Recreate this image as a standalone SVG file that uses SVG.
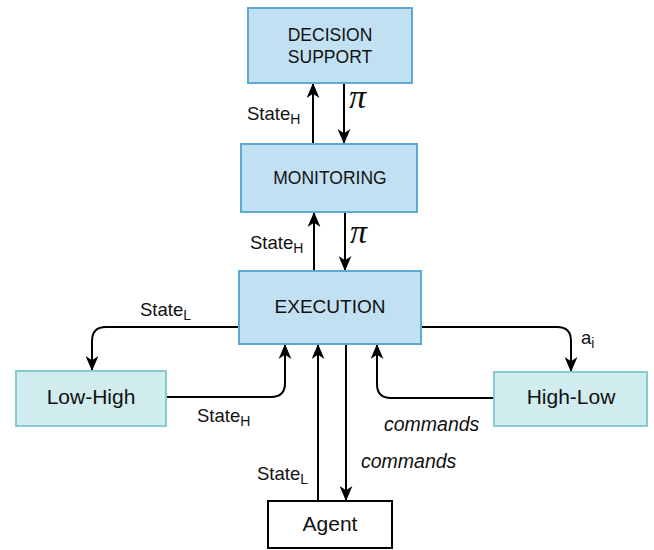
<svg xmlns="http://www.w3.org/2000/svg" width="654" height="550" viewBox="0 0 654 550">
  <defs>
    <marker id="arrow" viewBox="0 0 14 12" refX="13" refY="6" markerWidth="15" markerHeight="13" markerUnits="userSpaceOnUse" orient="auto">
      <path d="M0,0 L14,6 L0,12 L4,6 Z" fill="#000"/>
    </marker>
  </defs>
  <style>
    .layer { fill: #c1e1f3; stroke: #5fa8d3; stroke-width: 2; }
    .bridge { fill: #d0ecef; stroke: #86cbd0; stroke-width: 2; }
    .plain { fill: #fff; stroke: #000; stroke-width: 2; }
    .lbl { font-family: "Liberation Sans", Arial, sans-serif; fill: #111; text-anchor: middle; }
    .tag { font-family: "Liberation Sans", Arial, sans-serif; fill: #111; font-size: 18.5px; }
    .sub { font-size: 14px; }
    .cmd { font-family: "Liberation Sans", Arial, sans-serif; font-style: italic; font-size: 19.5px; fill: #111; }
    .pi { font-family: "Liberation Serif", "Times New Roman", serif; font-style: italic; font-size: 34px; fill: #111; }
    .wire { fill: none; stroke: #000; stroke-width: 2; marker-end: url(#arrow); }
  </style>

  <!-- connectors -->
  <g id="connectors">
    <path class="wire" d="M313,144 V84"/>
    <path class="wire" d="M344,83 V143"/>
    <path class="wire" d="M314,271 V213"/>
    <path class="wire" d="M345,212 V270"/>
    <path class="wire" d="M239,327 H106 Q92,327 92,341 V370"/>
    <path class="wire" d="M166,397 H271 Q285,397 285,383 V345"/>
    <path class="wire" d="M318,501 V345"/>
    <path class="wire" d="M346,344 V500"/>
    <path class="wire" d="M421,327 H557 Q571,327 571,341 V371"/>
    <path class="wire" d="M494,398 H391 Q377,398 377,384 V345"/>

    <text class="tag" x="247" y="120">State<tspan class="sub" dy="4">H</tspan></text>
    <text class="pi" x="349" y="108">π</text>
    <text class="tag" x="250" y="249">State<tspan class="sub" dy="4">H</tspan></text>
    <text class="pi" x="350" y="243">π</text>
    <text class="tag" x="140" y="316">State<tspan class="sub" dy="4">L</tspan></text>
    <text class="tag" x="197" y="422">State<tspan class="sub" dy="4">H</tspan></text>
    <text class="tag" x="257" y="480">State<tspan class="sub" dy="4">L</tspan></text>
    <text class="tag" x="581" y="344">a<tspan class="sub" dy="4">i</tspan></text>
    <text class="cmd" x="384" y="431">commands</text>
    <text class="cmd" x="361" y="468">commands</text>
  </g>

  <!-- nodes -->
  <g id="decision-support">
    <rect class="layer" x="248" y="8" width="164" height="75"/>
    <text class="lbl" x="330" y="41" font-size="17.5">DECISION</text>
    <text class="lbl" x="330" y="63" font-size="17.5">SUPPORT</text>
  </g>
  <g id="monitoring">
    <rect class="layer" x="241" y="144" width="176" height="68"/>
    <text class="lbl" x="330" y="184" font-size="17.5">MONITORING</text>
  </g>
  <g id="execution">
    <rect class="layer" x="239" y="271" width="182" height="73"/>
    <text class="lbl" x="330" y="313" font-size="19">EXECUTION</text>
  </g>
  <g id="low-high">
    <rect class="bridge" x="16" y="371" width="150" height="55"/>
    <text class="lbl" x="91" y="404" font-size="21">Low-High</text>
  </g>
  <g id="high-low">
    <rect class="bridge" x="494" y="372" width="153" height="54"/>
    <text class="lbl" x="571" y="404" font-size="21">High-Low</text>
  </g>
  <g id="agent">
    <rect class="plain" x="268" y="501" width="124" height="47"/>
    <text class="lbl" x="330" y="531" font-size="21">Agent</text>
  </g>
</svg>
